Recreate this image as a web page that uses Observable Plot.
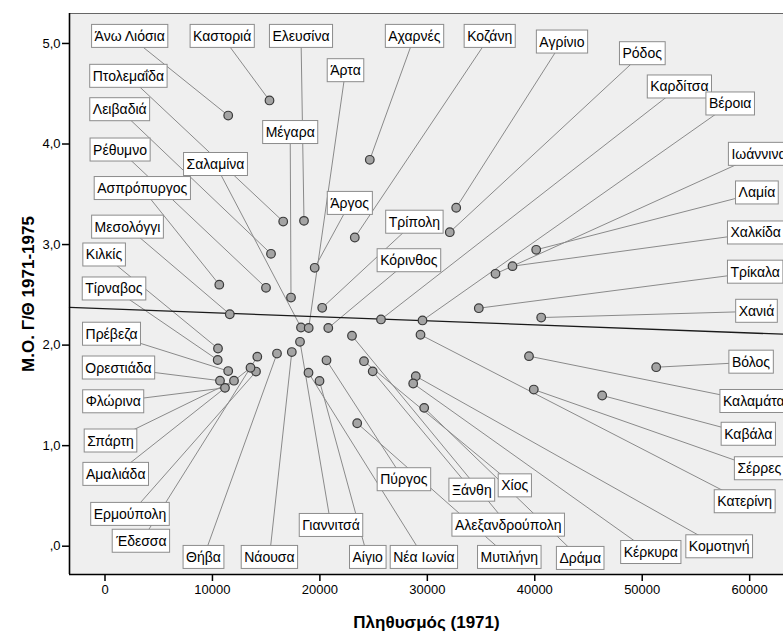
<!DOCTYPE html>
<html><head><meta charset="utf-8">
<script src="https://cdn.jsdelivr.net/npm/d3@7"></script>
<script src="https://cdn.jsdelivr.net/npm/@observablehq/plot@0.6"></script>
<style>
body{margin:0;background:#fff;}
#chart svg{display:block}
</style></head><body><div id="chart"></div>
<script>
const cities = ["Άνω Λιόσια","Καστοριά","Πτολεμαΐδα","Λειβαδιά","Ρέθυμνο","Σαλαμίνα","Ασπρόπυργος","Μέγαρα","Ελευσίνα","Άρτα","Αχαρνές","Κοζάνη","Άργος","Αγρίνιο","Ρόδος","Καρδίτσα","Βέροια","Ιωάννινα","Λαμία","Χαλκίδα","Τρίκαλα","Χανιά","Βόλος","Καλαμάτα","Καβάλα","Σέρρες","Κατερίνη","Κομοτηνή","Κέρκυρα","Δράμα","Μυτιλήνη","Αλεξανδρούπολη","Χίος","Ξάνθη","Πύργος","Νέα Ιωνία","Αίγιο","Γιαννιτσά","Νάουσα","Θήβα","Έδεσσα","Ερμούπολη","Αμαλιάδα","Σπάρτη","Φλώρινα","Ορεστιάδα","Πρέβεζα","Τίρναβος","Κιλκίς","Μεσολόγγι","Τρίπολη","Κόρινθος"];
const population = [11466,15310,16585,15450,14984,18242,10638,17311,18521,18958,24645,23249,19517,32686,32090,25687,29550,36344,40132,37926,34790,40597,51300,39462,46274,39908,29364,28926,28684,29708,23472,22988,24105,24915,20615,18940,19964,18149,17385,16008,14175,14054,13542,12006,11168,10703,11466,10489,10517,11615,20215,20782];
const rate = [4.283,4.433,3.229,2.908,2.570,2.175,2.601,2.473,3.236,2.170,3.843,3.070,2.769,3.366,3.123,2.255,2.245,2.709,2.948,2.785,2.367,2.274,1.780,1.890,1.499,1.558,2.103,1.691,1.618,1.376,1.223,2.093,1.840,1.739,1.849,1.725,1.643,2.033,1.931,1.916,1.885,1.737,1.775,1.646,1.575,1.646,1.742,1.852,1.966,2.307,2.371,2.170];
const labelPop = [2299,10908,2178,1368,1396,10284,3462,17237,18242,22383,28796,35804,22774,42524,49997,53459,58187,60866,60672,60561,60514,60635,60123,60383,59872,60896,59537,57163,50798,44227,37628,37526,38131,34138,27810,29680,24449,21034,15301,9167,3388,2327,996,512,763,1256,605,828,-93,2094,28796,28275];
const labelRate = [5.070,5.070,4.673,4.341,3.940,3.796,3.557,4.114,5.070,4.729,5.070,5.070,3.409,5.014,4.898,4.567,4.398,3.897,3.513,3.115,2.725,2.336,1.830,1.439,1.113,0.770,0.442,-0.006,-0.063,-0.122,-0.112,0.209,0.600,0.557,0.661,-0.112,-0.112,0.206,-0.112,-0.112,0.049,0.316,0.714,1.046,1.436,1.772,2.108,2.558,2.896,3.173,3.222,2.839];
const xTicks = [0,10000,20000,30000,40000,50000,60000];
const yTicks = [0,1,2,3,4,5];
const yTickLabels = [",0","1,0","2,0","3,0","4,0","5,0"];
const xTitle = "Πληθυσμός (1971)";
const yTitle = "Μ.Ο. Γ/Θ 1971-1975";

const data = cities.map((c,i)=>({city:c, pop:population[i], val:rate[i], lx:labelPop[i], ly:labelRate[i]}));
const mx = d3.mean(population), my = d3.mean(rate);
const slope = d3.sum(data, d=>(d.pop-mx)*(d.val-my)) / d3.sum(data, d=>(d.pop-mx)**2);
const intercept = my - slope*mx;
const xDom = [-3304, 63149], yDom = [-0.2815, 5.298];
const fit = xDom.map(x=>({x, y: intercept + slope*x}));

const font = "'Liberation Sans', Arial, sans-serif";
const plot = Plot.plot({
  width:783, height:633, marginLeft:69, marginRight:0, marginTop:13, marginBottom:59,
  style:{fontFamily:font, background:"#fff", color:"#000"},
  x:{domain:xDom}, y:{domain:yDom},
  marks:[
    Plot.frame({fill:"#efefef", stroke:"#666"}),
    Plot.link(data,{x1:"lx",y1:"ly",x2:"pop",y2:"val",stroke:"#8a8a8a",strokeWidth:1}),
    Plot.line(fit,{x:"x",y:"y",stroke:"#1a1a1a",strokeWidth:1.3}),
    Plot.dot(data,{x:"pop",y:"val",r:4.3,fill:"#a4a4a4",stroke:"#3a3a3a",strokeWidth:1.2}),
    Plot.text(data,{x:"lx",y:"ly",text:"city",fontSize:14,fill:"#000"}),
    Plot.ruleX([xDom[0]],{stroke:"#000",strokeWidth:1.6}),
    Plot.ruleY([yDom[0]],{stroke:"#000",strokeWidth:1.6}),
    Plot.axisX({ticks:xTicks, tickSize:7, tickPadding:3, tickFormat:d=>String(d), fontSize:13, label:null, strokeWidth:1.5}),
    Plot.axisY({ticks:yTicks, tickSize:7, tickPadding:2, tickFormat:d=>yTickLabels[yTicks.indexOf(d)], fontSize:13, label:null, strokeWidth:1.5}),
    Plot.text([xTitle],{frameAnchor:"bottom", dy:48, lineAnchor:"middle", textAnchor:"middle", fontSize:17, fontWeight:"bold"}),
    Plot.text([yTitle],{frameAnchor:"left", dx:-41, rotate:-90, textAnchor:"middle", lineAnchor:"middle", fontSize:17, fontWeight:"bold"})
  ]
});
document.getElementById("chart").append(plot);
const groups = Array.from(plot.querySelectorAll('g[aria-label="text"]')).filter(g=>g.querySelectorAll("text").length>10);
groups.forEach(g=>{
  g.querySelectorAll("text").forEach(t=>{
    const b = t.getBBox();
    const r = document.createElementNS("http://www.w3.org/2000/svg","rect");
    r.setAttribute("x", b.x-3);
    r.setAttribute("y", b.y + b.height/2 - 11.5);
    r.setAttribute("width", b.width+6);
    r.setAttribute("height", 23);
    r.setAttribute("fill", "#fff");
    r.setAttribute("stroke", "#8c8c8c");
    r.setAttribute("stroke-width", "1");
    const tr = t.getAttribute("transform");
    if (tr) r.setAttribute("transform", tr);
    t.parentNode.insertBefore(r, t);
  });
});
</script></body></html>
